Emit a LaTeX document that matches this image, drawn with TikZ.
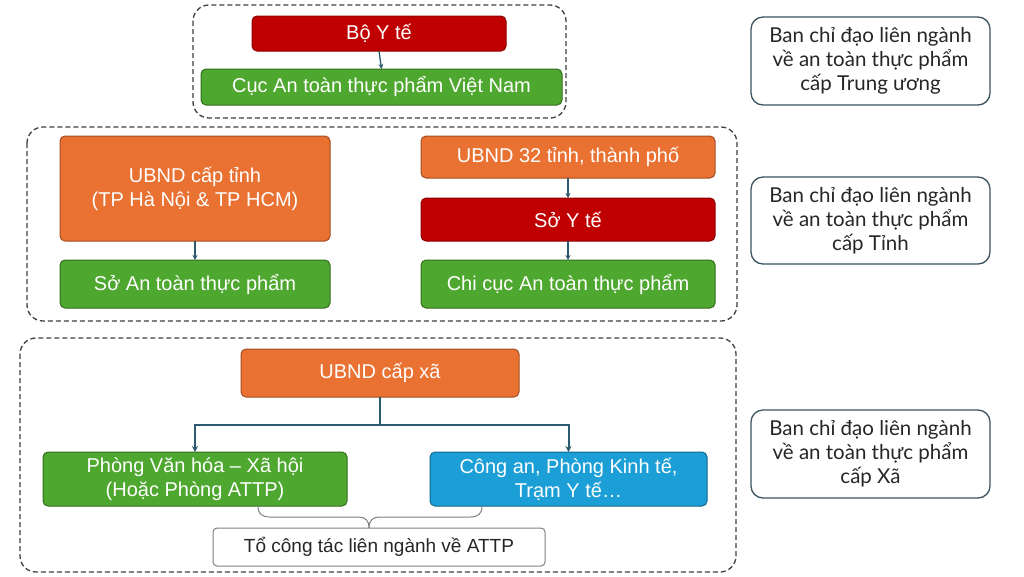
\documentclass[tikz,border=0pt]{standalone}
\usepackage{fontspec}
\setmainfont{Liberation Sans}
\newfontfamily\rfont{Lato}
\usetikzlibrary{arrows.meta}
\definecolor{cred}{HTML}{C00000}
\definecolor{cgreen}{HTML}{4EA72E}
\definecolor{corange}{HTML}{E97132}
\definecolor{cblue}{HTML}{1C9ED6}
\definecolor{carrow}{HTML}{2C5A6E}
\definecolor{cgrp}{HTML}{404040}
\definecolor{cside}{HTML}{3B5361}
\definecolor{ctxt}{HTML}{262626}
\tikzset{
  box/.style={rounded corners=5pt, line width=1pt, text=white, align=center,
    inner sep=0pt, outer sep=0pt, font=\fontsize{20}{24}\selectfont},
  redbox/.style={box, fill=cred, draw=cred!75!black},
  greenbox/.style={box, fill=cgreen, draw=cgreen!65!black},
  orangebox/.style={box, fill=corange, draw=corange!70!black},
  bluebox/.style={box, fill=cblue, draw=cblue!65!black},
  grp/.style={draw=cgrp, dashed, line width=1.3pt, rounded corners=16pt, dash pattern=on 5pt off 3pt},
  side/.style={draw=cside, line width=1.3pt, rounded corners=12pt, align=center, text=ctxt,
    inner sep=0pt, font=\rfont\fontsize{20.5}{24}\selectfont},
  tobox/.style={draw=gray, line width=1pt, rounded corners=4pt, fill=white, text=ctxt,
    inner sep=0pt, font=\fontsize{19}{24}\selectfont},
  arr/.style={draw=carrow, line width=1.3pt, -{Stealth[length=5pt,width=5pt]}},
  barr/.style={draw=carrow, line width=2pt, -{Stealth[length=6pt,width=6pt]}},
  brc/.style={draw=gray, line width=1pt}
}
\begin{document}
\begin{tikzpicture}[x=1pt,y=-1pt]
\useasboundingbox[fill=white] (0,0) rectangle (1024,576);
% groups
\draw[grp] (193,5) rectangle (566,118);
\draw[grp] (27,127) rectangle (737,321);
\draw[grp] (20,338) rectangle (736,572);
% top
\node[redbox, minimum width=254pt, minimum height=35pt] (byt) at (379,33.5) {Bộ Y tế};
\node[greenbox, minimum width=361pt, minimum height=36pt] (cuc) at (381.5,87) {Cục An toàn thực phẩm Việt Nam};
\draw[arr] (byt.south) -- (cuc.north);
% middle
\node[orangebox, minimum width=270pt, minimum height=105pt] (ubt) at (195,188.5) {UBND cấp tỉnh\\(TP Hà Nội \& TP HCM)};
\node[greenbox, minimum width=270pt, minimum height=48pt] (soat) at (195,284) {Sở An toàn thực phẩm};
\node[orangebox, minimum width=294pt, minimum height=42pt] (ub32) at (568,157) {UBND 32 tỉnh, thành phố};
\node[redbox, minimum width=294pt, minimum height=43pt] (syt) at (568,219.5) {Sở Y tế};
\node[greenbox, minimum width=294pt, minimum height=48pt] (ccuc) at (568,284) {Chi cục An toàn thực phẩm};
\draw[arr] (ubt.south) -- (soat.north);
\draw[arr] (ub32.south) -- (syt.north);
\draw[arr] (syt.south) -- (ccuc.north);
% bottom
\node[orangebox, minimum width=278pt, minimum height=48pt] (ubx) at (380,373) {UBND cấp xã};
\node[greenbox, minimum width=304pt, minimum height=54pt] (pvh) at (195,479) {Phòng Văn hóa – Xã hội\\(Hoặc Phòng ATTP)};
\node[bluebox, minimum width=277pt, minimum height=54pt] (ca) at (568.5,479) {Công an, Phòng Kinh tế,\\Trạm Y tế…};
\coordinate (j) at (380,425);
\draw[carrow, line width=2pt] (ubx.south) -- (j);
\draw[barr] (j) -| (pvh.north);
\draw[barr] (j) -| (ca.north);
\node[tobox, minimum width=332pt, minimum height=38pt] (to) at (379,547) {Tổ công tác liên ngành về ATTP};
% brace
\coordinate (bl) at (258,506);
\coordinate (br) at (482,506);
\draw[brc] (bl) .. controls (258,514) and (262,517) .. (270,517) -- (358,517)
  .. controls (365,517) and (369,520) .. (369,528);
\draw[brc] (369,528) .. controls (369,520) and (373,517) .. (380,517) -- (470,517)
  .. controls (478,517) and (482,514) .. (br);
% side boxes
\node[side, minimum width=239pt, minimum height=88pt] (s1) at (870.5,61) {Ban chỉ đạo liên ngành\\về an toàn thực phẩm\\cấp Trung ương};
\node[side, minimum width=239pt, minimum height=87pt] (s2) at (870.5,220.5) {Ban chỉ đạo liên ngành\\về an toàn thực phẩm\\cấp Tỉnh};
\node[side, minimum width=239pt, minimum height=88pt] (s3) at (870.5,454) {Ban chỉ đạo liên ngành\\về an toàn thực phẩm\\cấp Xã};
\end{tikzpicture}
\end{document}
